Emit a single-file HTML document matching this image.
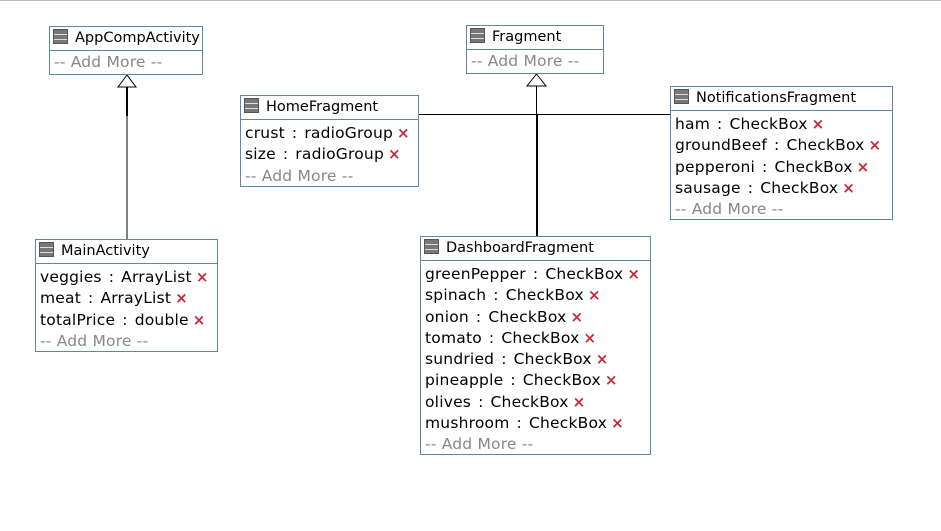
<!DOCTYPE html>
<html><head><meta charset="utf-8"><style>
body{margin:0;width:941px;height:531px;background:#fff;position:relative;overflow:hidden;font-family:"DejaVu Sans","Liberation Sans",sans-serif;}
.top{position:absolute;left:0;top:0;width:941px;height:2px;border-top:1px solid #bbb}
.box{position:absolute;border:1px solid #5a8aa8;background:#fff;box-sizing:border-box}
.hd{height:23px;border-bottom:1px solid #5a8aa8;font-size:14.5px;line-height:23px;padding-left:3px;white-space:nowrap;color:#000}
.ic{display:inline-block;width:15px;height:15px;background:linear-gradient(#777 0 4px,#ddd 4px 5px,#777 5px 9px,#ddd 9px 10px,#777 10px 15px);border:1px solid #555;box-sizing:border-box;vertical-align:-2px;margin-right:7px}
.bd{padding:3px 0 0 4px}
.r{font-size:15.5px;line-height:21.3px;white-space:nowrap;color:#000;letter-spacing:0.2px}
.c{margin:0 7px}
.x{color:#c8283c;font-size:15px;font-weight:bold;margin-left:4px}
.am{color:#888}
svg{position:absolute;left:0;top:0}
</style></head><body>
<div class="top"></div>
<svg width="941" height="531">
<line x1="127" y1="87" x2="127" y2="116" stroke="#000" stroke-width="2"/>
<line x1="127" y1="116" x2="127" y2="239" stroke="#000" stroke-width="1"/>
<polygon points="127,75 118,87 136,87" fill="#fff" stroke="#000"/>
<line x1="418" y1="114.5" x2="670" y2="114.5" stroke="#000"/>
<line x1="536.5" y1="86" x2="536.5" y2="114" stroke="#000"/>
<line x1="537" y1="114" x2="537" y2="236" stroke="#000" stroke-width="2"/>
<polygon points="536.5,74 527,86 546,86" fill="#fff" stroke="#000"/>
</svg>
<div class="box" style="left:49px;top:26px;width:154px;height:49px"><div class="hd"><span class="ic"></span>AppCompActivity</div><div class="bd" style="padding-top:1px"><div class="r am">-- Add More --</div></div></div>
<div class="box" style="left:466px;top:25px;width:138px;height:49px"><div class="hd"><span class="ic"></span>Fragment</div><div class="bd" style="padding-top:1px"><div class="r am">-- Add More --</div></div></div>
<div class="box" style="left:240px;top:95px;width:179px;height:92px"><div class="hd"><span class="ic"></span>HomeFragment</div><div class="bd">
<div class="r">crust<span class="c">:</span>radioGroup<span class="x">×</span></div>
<div class="r">size<span class="c">:</span>radioGroup<span class="x">×</span></div>
<div class="r am">-- Add More --</div></div></div>
<div class="box" style="left:670px;top:86px;width:223px;height:134px"><div class="hd"><span class="ic"></span>NotificationsFragment</div><div class="bd">
<div class="r">ham<span class="c">:</span>CheckBox<span class="x">×</span></div>
<div class="r">groundBeef<span class="c">:</span>CheckBox<span class="x">×</span></div>
<div class="r">pepperoni<span class="c">:</span>CheckBox<span class="x">×</span></div>
<div class="r">sausage<span class="c">:</span>CheckBox<span class="x">×</span></div>
<div class="r am">-- Add More --</div></div></div>
<div class="box" style="left:35px;top:239px;width:183px;height:113px"><div class="hd"><span class="ic"></span>MainActivity</div><div class="bd">
<div class="r">veggies<span class="c">:</span>ArrayList<span class="x">×</span></div>
<div class="r">meat<span class="c">:</span>ArrayList<span class="x">×</span></div>
<div class="r">totalPrice<span class="c">:</span>double<span class="x">×</span></div>
<div class="r am">-- Add More --</div></div></div>
<div class="box" style="left:420px;top:236px;width:231px;height:219px"><div class="hd"><span class="ic"></span>DashboardFragment</div><div class="bd">
<div class="r">greenPepper<span class="c">:</span>CheckBox<span class="x">×</span></div>
<div class="r">spinach<span class="c">:</span>CheckBox<span class="x">×</span></div>
<div class="r">onion<span class="c">:</span>CheckBox<span class="x">×</span></div>
<div class="r">tomato<span class="c">:</span>CheckBox<span class="x">×</span></div>
<div class="r">sundried<span class="c">:</span>CheckBox<span class="x">×</span></div>
<div class="r">pineapple<span class="c">:</span>CheckBox<span class="x">×</span></div>
<div class="r">olives<span class="c">:</span>CheckBox<span class="x">×</span></div>
<div class="r">mushroom<span class="c">:</span>CheckBox<span class="x">×</span></div>
<div class="r am">-- Add More --</div></div></div>
</body></html>
